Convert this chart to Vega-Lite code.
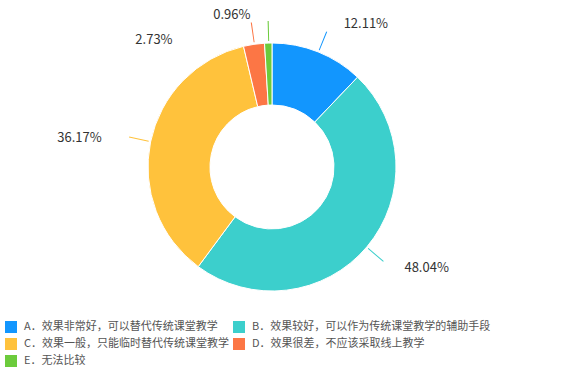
{
  "$schema": "https://vega.github.io/schema/vega-lite/v6.json",
  "width": 575,
  "height": 370,
  "padding": 0,
  "autosize": "none",
  "background": "white",
  "config": {"view": {"stroke": null}, "font": "Noto Sans CJK SC"},
  "data": {
    "values": [
      {"cat": "A．效果非常好，可以替代传统课堂教学", "value": 12.11, "label": "12.11%"},
      {"cat": "B．效果较好，可以作为传统课堂教学的辅助手段", "value": 48.04, "label": "48.04%"},
      {"cat": "C．效果一般，只能临时替代传统课堂教学", "value": 36.17, "label": "36.17%"},
      {"cat": "D．效果很差，不应该采取线上教学", "value": 2.73, "label": "2.73%"},
      {"cat": "E．无法比较", "value": 0.96, "label": "0.96%"}
    ]
  },
  "transform": [
    {"window": [{"op": "sum", "field": "value", "as": "end"}], "sort": [{"field": "cat"}], "frame": [null, 0]},
    {"calculate": "datum.end - datum.value", "as": "start"},
    {"calculate": "datum.end - datum.value / 2", "as": "mid"},
    {"calculate": "datum.mid + 0.12", "as": "mid2"},
    {"calculate": "substring(datum.cat, 0, 1)", "as": "key"}
  ],
  "layer": [
    {
      "mark": {"type": "arc", "x": 272, "y": 167, "innerRadius": 62, "outerRadius": 124, "stroke": "white", "strokeWidth": 1},
      "encoding": {
        "theta": {"field": "start", "type": "quantitative", "scale": {"domain": [0, 100.01]}},
        "theta2": {"field": "end"},
        "color": {
          "field": "cat", "type": "nominal",
          "scale": {"range": ["#1296fe", "#3ccfcc", "#ffc23c", "#fc7645", "#6ccb3c"]},
          "legend": {
            "title": null, "orient": "none", "legendX": 5, "legendY": 321, "direction": "horizontal",
            "columns": 2, "columnPadding": 3, "rowPadding": 5, "symbolType": "square", "symbolSize": 144,
            "symbolStrokeWidth": 0, "labelFontSize": 11, "labelColor": "#555555", "labelOffset": 7,
            "labelLimit": 300, "symbolOffset": 0
          }
        }
      }
    },
    {
      "mark": {"type": "arc", "x": 272, "y": 167, "innerRadius": 126, "outerRadius": 146},
      "encoding": {
        "theta": {"field": "mid", "type": "quantitative"},
        "theta2": {"field": "mid2"},
        "color": {"field": "cat", "type": "nominal"}
      }
    },
    {
      "transform": [{"filter": "datum.key == 'A'"}],
      "mark": {"type": "text", "x": 272, "y": 167, "radius": 172, "dx": 30, "dy": 17, "fontSize": 13, "fill": "#333333"},
      "encoding": {"theta": {"field": "mid", "type": "quantitative"}, "text": {"field": "label"}}
    },
    {
      "transform": [{"filter": "datum.key == 'B'"}],
      "mark": {"type": "text", "x": 272, "y": 167, "radius": 172, "dx": 23, "dy": -10, "fontSize": 13, "fill": "#333333"},
      "encoding": {"theta": {"field": "mid", "type": "quantitative"}, "text": {"field": "label"}}
    },
    {
      "transform": [{"filter": "datum.key == 'C'"}],
      "mark": {"type": "text", "x": 272, "y": 167, "radius": 172, "dx": -24, "dy": 6, "fontSize": 13, "fill": "#333333"},
      "encoding": {"theta": {"field": "mid", "type": "quantitative"}, "text": {"field": "label"}}
    },
    {
      "transform": [{"filter": "datum.key == 'D'"}],
      "mark": {"type": "text", "x": 272, "y": 167, "radius": 172, "dx": -93, "dy": 43, "fontSize": 13, "fill": "#333333"},
      "encoding": {"theta": {"field": "mid", "type": "quantitative"}, "text": {"field": "label"}}
    },
    {
      "transform": [{"filter": "datum.key == 'E'"}],
      "mark": {"type": "text", "x": 272, "y": 167, "radius": 172, "dx": -35, "dy": 20, "fontSize": 13, "fill": "#333333"},
      "encoding": {"theta": {"field": "mid", "type": "quantitative"}, "text": {"field": "label"}}
    }
  ]
}
